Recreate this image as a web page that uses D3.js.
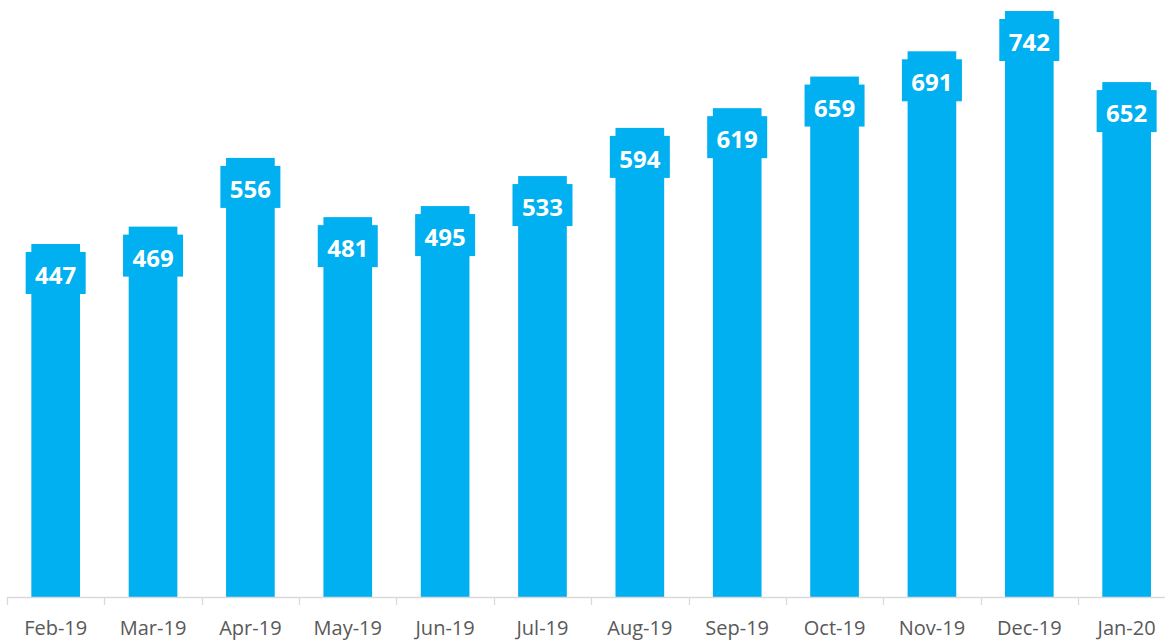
<!DOCTYPE html>
<html>
<head>
<meta charset="utf-8">
<script src="https://cdn.jsdelivr.net/npm/d3@7"></script>
<style>
  body { margin: 0; background: #fff; }
</style>
</head>
<body>
<script>
const months = ['Feb-19', 'Mar-19', 'Apr-19', 'May-19', 'Jun-19', 'Jul-19',
  'Aug-19', 'Sep-19', 'Oct-19', 'Nov-19', 'Dec-19', 'Jan-20'];
const values = [447, 469, 556, 481, 495, 533, 594, 619, 659, 691, 742, 652];

const WIDTH = 1165;
const HEIGHT = 641;
const LEFT = 7;
const BAND = 97.36;
const BASE_Y = 597;
const BLUE = '#00B0F0';

const data = months.map((m, i) => ({ month: m, value: values[i] }));

const svg = d3.select('body').append('svg')
  .attr('width', WIDTH)
  .attr('height', HEIGHT);

const x = d3.scaleBand()
  .domain(months)
  .range([LEFT, LEFT + BAND * months.length])
  .paddingInner(0.5)
  .paddingOuter(0.25);

const y = d3.scaleLinear()
  .domain([0, 750])
  .range([BASE_Y, 4.7]);

// bars
svg.append('g').selectAll('rect')
  .data(data)
  .enter()
  .append('rect')
  .attr('x', d => x(d.month))
  .attr('width', x.bandwidth())
  .attr('y', d => y(d.value))
  .attr('height', d => BASE_Y - y(d.value))
  .attr('fill', BLUE);

// label boxes
const labels = svg.append('g');
labels.selectAll('rect')
  .data(data)
  .enter()
  .append('rect')
  .attr('x', d => x(d.month) + x.bandwidth() / 2 - 30)
  .attr('width', 60)
  .attr('y', d => y(d.value) + 8)
  .attr('height', 42)
  .attr('fill', BLUE);

labels.selectAll('text')
  .data(data)
  .enter()
  .append('text')
  .attr('x', d => x(d.month) + x.bandwidth() / 2)
  .attr('y', d => y(d.value) + 40)
  .attr('text-anchor', 'middle')
  .attr('font-family', 'Open Sans, sans-serif')
  .attr('font-weight', 'bold')
  .attr('font-size', 24)
  .attr('fill', '#fff')
  .text(d => d.value);

// x axis
const axis = svg.append('g');
axis.append('line')
  .attr('x1', LEFT)
  .attr('x2', WIDTH)
  .attr('y1', BASE_Y + 0.5)
  .attr('y2', BASE_Y + 0.5)
  .attr('stroke', '#D9D9D9')
  .attr('stroke-width', 1.3);

axis.selectAll('line.tick')
  .data(d3.range(months.length + 1))
  .enter()
  .append('line')
  .attr('class', 'tick')
  .attr('x1', i => Math.round(LEFT + i * BAND) + 0.5)
  .attr('x2', i => Math.round(LEFT + i * BAND) + 0.5)
  .attr('y1', BASE_Y)
  .attr('y2', BASE_Y + 8)
  .attr('stroke', '#D9D9D9')
  .attr('stroke-width', 1.3);

axis.selectAll('text')
  .data(data)
  .enter()
  .append('text')
  .attr('x', d => x(d.month) + x.bandwidth() / 2)
  .attr('y', 635)
  .attr('text-anchor', 'middle')
  .attr('font-family', 'Open Sans, sans-serif')
  .attr('font-size', 20)
  .attr('fill', '#595959')
  .text(d => d.month);
</script>
</body>
</html>
